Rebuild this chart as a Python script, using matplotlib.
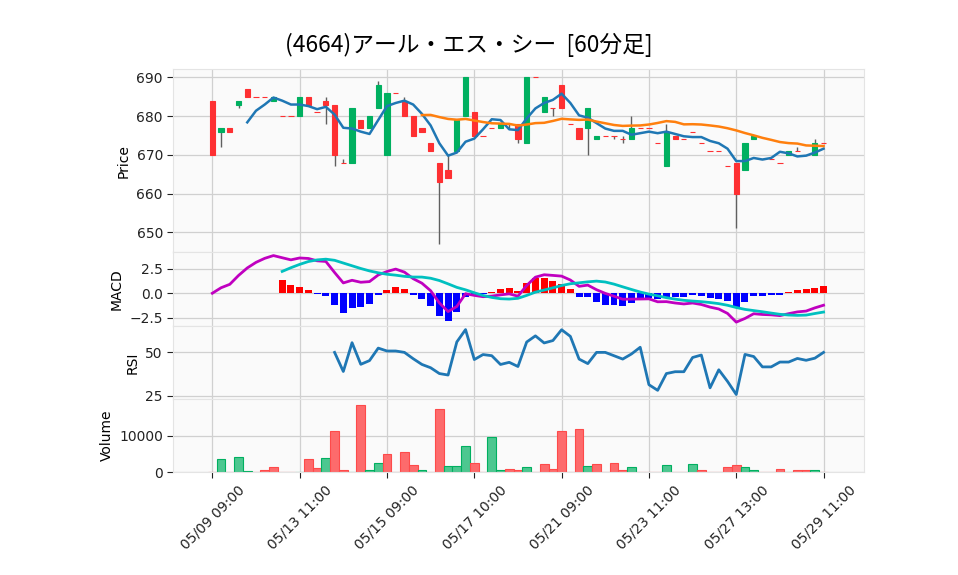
import matplotlib
matplotlib.use("Agg")
import matplotlib.pyplot as plt
import numpy as np
import pandas as pd

plt.rcParams['font.family'] = ['DejaVu Sans', 'Noto Sans CJK JP']

# 60-minute bars, (4664) RSC
opens = [684, 676, 677, 683, 687, 685, 685, 684, 680, 680, 680, 685, 681, 684, 683, 668, 668, 679,
         677, 682, 670, 686, 684, 680, 677, 673, 668, 666, 671, 680, 681, 675, 677, 677, 678, 678,
         673, 690, 681, 682, 688, 678, 677, 677, 674, 675, 675, 674, 674, 677, 677, 673, 667, 675,
         674, 676, 673, 671, 671, 667, 668, 666, 674, 669, 669, 668, 670, 671, 670, 670, 673]
highs = [684, 677, 677, 684, 687, 685, 685, 685, 680, 680, 685, 685, 681, 685, 683, 669, 682, 679,
         680, 689, 686, 686, 685, 680, 677, 673, 668, 670, 679, 690, 681, 675, 677, 678, 678, 678,
         690, 690, 685, 682, 688, 678, 677, 682, 675, 675, 675, 675, 680, 677, 677, 673, 678, 675,
         674, 676, 673, 671, 671, 667, 668, 673, 675, 669, 669, 668, 671, 672, 670, 674, 673]
lows = [670, 672, 676, 682, 685, 685, 685, 684, 680, 680, 680, 683, 681, 678, 667, 668, 668, 677,
        677, 682, 670, 686, 680, 675, 676, 671, 647, 664, 671, 680, 675, 675, 677, 677, 677, 673,
        673, 690, 681, 680, 682, 678, 674, 670, 674, 675, 674, 673, 674, 677, 677, 673, 667, 674,
        674, 676, 673, 671, 671, 667, 651, 666, 674, 669, 669, 668, 670, 671, 670, 670, 673]
closes = [670, 677, 676, 684, 685, 685, 685, 685, 680, 680, 685, 683, 681, 683, 670, 668, 682, 677,
          680, 688, 686, 686, 680, 675, 676, 671, 663, 664, 679, 690, 675, 675, 677, 678, 678, 674,
          690, 690, 685, 682, 682, 678, 674, 682, 675, 675, 675, 674, 677, 677, 677, 673, 676, 674,
          674, 676, 673, 671, 671, 667, 660, 673, 675, 669, 669, 668, 671, 671, 670, 673, 673]
volumes = [0, 3600, 0, 4200, 400, 0, 500, 1500, 200, 200, 0, 3600, 1200, 3900, 11300, 500, 0, 18300,
           500, 2500, 4900, 0, 5500, 1900, 500, 0, 17200, 1700, 1700, 7200, 2500, 0, 9600, 500, 900,
           500, 1500, 0, 2200, 900, 11300, 0, 11800, 1700, 2200, 0, 2500, 500, 1500, 200, 0, 200,
           2000, 200, 0, 2300, 500, 200, 0, 1500, 1900, 1500, 500, 200, 0, 900, 200, 500, 500, 500, 0]

tick_pos = [0, 10, 20, 30, 40, 50, 60, 70]
tick_labels = ['05/09 09:00', '05/13 11:00', '05/15 09:00', '05/17 10:00',
               '05/21 09:00', '05/23 11:00', '05/27 13:00', '05/29 11:00']

title = '(4664)アール・エス・シー  [60分足]'

up_color = '#00b060'
down_color = '#fe3032'
vol_up = '#4dc790'
vol_down = '#fd6b6c'
bg = '#fafafa'
grid_c = '#d0d0d0'

close = pd.Series(closes, dtype=float)
x = np.arange(len(closes))

ma5 = close.rolling(5).mean()
ma25 = close.rolling(25).mean()
ema12 = close.ewm(span=12, adjust=False).mean()
ema26 = close.ewm(span=26, adjust=False).mean()
macd = ema12 - ema26
signal = macd.rolling(9).mean()
hist = macd - signal
delta = close.diff()
gain = delta.clip(lower=0).rolling(14).mean()
loss = (-delta.clip(upper=0)).rolling(14).mean()
rsi = 100 * gain / (gain + loss)

fig = plt.figure(figsize=(9.58, 5.75), dpi=100)
left, width = 0.1809, 0.7207
top, bottom = 0.8795, 0.1786
ratios = [5, 2, 2, 2]
h_unit = (top - bottom) / sum(ratios)
axes = []
y_top = top
for r in ratios:
    h = r * h_unit
    ax = fig.add_axes([left, y_top - h, width, h], sharex=axes[0] if axes else None)
    y_top -= h
    axes.append(ax)
ax_p, ax_m, ax_r, ax_v = axes

for ax in axes:
    ax.set_facecolor(bg)
    ax.grid(True, color=grid_c, linewidth=0.9)
    ax.set_axisbelow(True)
    for s in ax.spines.values():
        s.set_color('#e4e4e4')
    ax.tick_params(labelsize=10, colors='#222222', length=4, width=0.8)

# candles
o = np.array(opens); c = np.array(closes); hi = np.array(highs); lo = np.array(lows)
cand_col = [up_color if cc > oo else down_color for oo, cc in zip(o, c)]
ax_p.vlines(x, lo, hi, color='#606060', linewidth=1.0, zorder=2)
ax_p.bar(x, np.abs(c - o), bottom=np.minimum(o, c), width=0.6, color=cand_col,
         edgecolor=cand_col, linewidth=0.8, zorder=3)
ax_p.plot(x, ma5, color='#1f77b4', linewidth=1.8, zorder=4)
ax_p.plot(x, ma25, color='#ff7f0e', linewidth=1.8, zorder=4)
ax_p.set_ylim(644.8, 692.1)
ax_p.set_yticks([650, 660, 670, 680, 690])
ax_p.set_ylabel('Price', fontsize=10)

# MACD
hist_col = ['red' if v > 0 else 'blue' for v in hist.fillna(0)]
ax_m.bar(x, hist, width=0.8, color=hist_col, zorder=2)
ax_m.plot(x, macd, color='#c000c0', linewidth=2.0, zorder=3)
ax_m.plot(x, signal, color='#00c0c0', linewidth=2.0, zorder=3)
ax_m.set_ylim(-3.32, 4.16)
ax_m.set_yticks([-2.5, 0.0, 2.5])
ax_m.set_yticklabels(['\u22122.5', '0.0', '2.5'])
ax_m.set_ylabel('MACD', fontsize=10)

# RSI
ax_r.plot(x, rsi, color='#1f77b4', linewidth=2.0)
ax_r.set_ylim(23.2, 65.3)
ax_r.set_yticks([25, 50])
ax_r.set_ylabel('RSI', fontsize=10)

# volume
prev = np.concatenate([[c[0]], c[:-1]])
vol_col = [vol_up if cc > pp else vol_down for cc, pp in zip(c, prev)]
vol_col[0] = vol_up if c[0] > o[0] else vol_down
vol_edge = [up_color if vc == vol_up else '#fe4a4a' for vc in vol_col]
ax_v.bar(x, volumes, width=1.0, color=vol_col, edgecolor=vol_edge, linewidth=0.8, zorder=2)
ax_v.set_ylim(0, 20000)
ax_v.set_yticks([0, 10000])
ax_v.set_ylabel('Volume', fontsize=10)

ax_v.set_xlim(-4.47, 74.6)
ax_v.set_xticks(tick_pos)
ax_v.set_xticklabels(tick_labels, rotation=45, ha='center')
for ax in axes[:-1]:
    ax.tick_params(axis='x', which='both', length=0, labelbottom=False)

fig.text(0.489, 0.921, title, ha='center', va='center', fontsize=16.4,
         family=['Noto Sans CJK JP', 'DejaVu Sans'])

fig.savefig('out.png', dpi=100, facecolor='white')
